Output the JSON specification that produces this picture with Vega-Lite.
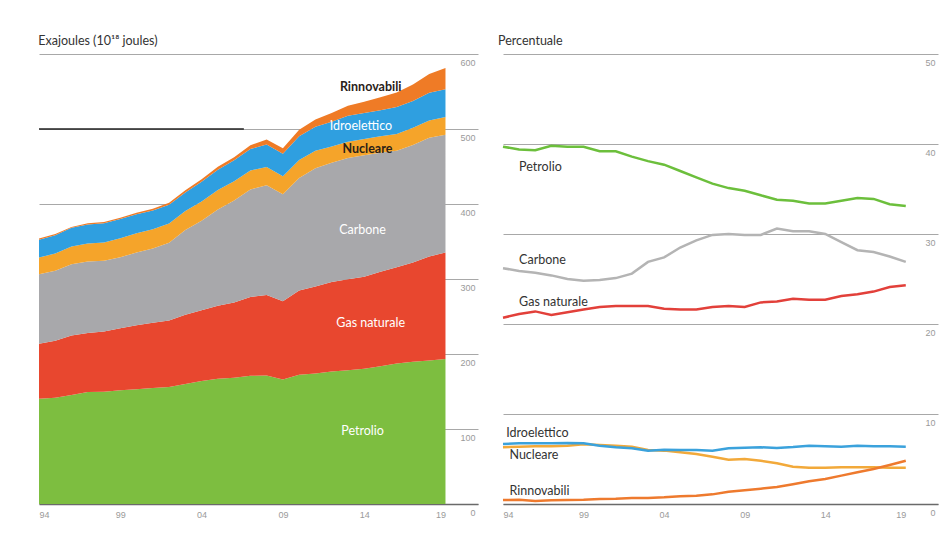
{
  "$schema": "https://vega.github.io/schema/vega-lite/v6.json",
  "background": "white",
  "padding": {"left": 38, "top": 34, "right": 5, "bottom": 5},
  "autosize": {"type": "pad"},
  "spacing": 20,
  "config": {
    "view": {"stroke": null},
    "font": "Lato",
    "axis": {"labelFont": "Liberation Sans", "labelFontSize": 9, "labelColor": "#9a9a9a", "title": null, "tickSize": 0, "ticks": false},
    "title": {"font": "Lato", "fontSize": 12.5, "fontWeight": "normal", "color": "#333333", "anchor": "start", "offset": 7}
  },
  "datasets": {
    "energy": [
      {"year":1994,"source":"Petrolio","ej":140.5,"pct":39.7},{"year":1994,"source":"Gas naturale","ej":73.3,"pct":20.7},{"year":1994,"source":"Carbone","ej":92.7,"pct":26.2},{"year":1994,"source":"Nucleare","ej":22.3,"pct":6.30},{"year":1994,"source":"Idroelettico","ej":23.6,"pct":6.67},{"year":1994,"source":"Rinnovabili","ej":1.6,"pct":0.44},
      {"year":1995,"source":"Petrolio","ej":141.8,"pct":39.4},{"year":1995,"source":"Gas naturale","ej":76.0,"pct":21.1},{"year":1995,"source":"Carbone","ej":93.2,"pct":25.9},{"year":1995,"source":"Nucleare","ej":22.9,"pct":6.37},{"year":1995,"source":"Idroelettico","ej":24.3,"pct":6.74},{"year":1995,"source":"Rinnovabili","ej":1.7,"pct":0.48},
      {"year":1996,"source":"Petrolio","ej":145.4,"pct":39.3},{"year":1996,"source":"Gas naturale","ej":79.2,"pct":21.4},{"year":1996,"source":"Carbone","ej":95.1,"pct":25.7},{"year":1996,"source":"Nucleare","ej":23.7,"pct":6.41},{"year":1996,"source":"Idroelettico","ej":24.9,"pct":6.74},{"year":1996,"source":"Rinnovabili","ej":1.2,"pct":0.33},
      {"year":1997,"source":"Petrolio","ej":149.3,"pct":39.8},{"year":1997,"source":"Gas naturale","ej":78.8,"pct":21.0},{"year":1997,"source":"Carbone","ej":95.3,"pct":25.4},{"year":1997,"source":"Nucleare","ej":24.0,"pct":6.41},{"year":1997,"source":"Idroelettico","ej":25.3,"pct":6.74},{"year":1997,"source":"Rinnovabili","ej":1.5,"pct":0.41},
      {"year":1998,"source":"Petrolio","ej":149.7,"pct":39.7},{"year":1998,"source":"Gas naturale","ej":80.3,"pct":21.3},{"year":1998,"source":"Carbone","ej":94.3,"pct":25.0},{"year":1998,"source":"Nucleare","ej":24.4,"pct":6.48},{"year":1998,"source":"Idroelettico","ej":25.6,"pct":6.78},{"year":1998,"source":"Rinnovabili","ej":1.7,"pct":0.45},
      {"year":1999,"source":"Petrolio","ej":151.7,"pct":39.7},{"year":1999,"source":"Gas naturale","ej":82.5,"pct":21.6},{"year":1999,"source":"Carbone","ej":94.7,"pct":24.8},{"year":1999,"source":"Nucleare","ej":25.3,"pct":6.63},{"year":1999,"source":"Idroelettico","ej":25.7,"pct":6.74},{"year":1999,"source":"Rinnovabili","ej":1.8,"pct":0.48},
      {"year":2000,"source":"Petrolio","ej":152.9,"pct":39.2},{"year":2000,"source":"Gas naturale","ej":85.4,"pct":21.9},{"year":2000,"source":"Carbone","ej":97.1,"pct":24.9},{"year":2000,"source":"Nucleare","ej":25.5,"pct":6.55},{"year":2000,"source":"Idroelettico","ej":25.3,"pct":6.48},{"year":2000,"source":"Rinnovabili","ej":2.1,"pct":0.55},
      {"year":2001,"source":"Petrolio","ej":154.8,"pct":39.2},{"year":2001,"source":"Gas naturale","ej":86.9,"pct":22.0},{"year":2001,"source":"Carbone","ej":99.1,"pct":25.1},{"year":2001,"source":"Nucleare","ej":25.6,"pct":6.48},{"year":2001,"source":"Idroelettico","ej":24.9,"pct":6.30},{"year":2001,"source":"Rinnovabili","ej":2.3,"pct":0.57},
      {"year":2002,"source":"Petrolio","ej":155.9,"pct":38.6},{"year":2002,"source":"Gas naturale","ej":88.9,"pct":22.0},{"year":2002,"source":"Carbone","ej":103.4,"pct":25.6},{"year":2002,"source":"Nucleare","ej":25.7,"pct":6.37},{"year":2002,"source":"Idroelettico","ej":25.0,"pct":6.19},{"year":2002,"source":"Rinnovabili","ej":2.7,"pct":0.67},
      {"year":2003,"source":"Petrolio","ej":160.0,"pct":38.1},{"year":2003,"source":"Gas naturale","ej":92.4,"pct":22.0},{"year":2003,"source":"Carbone","ej":113.0,"pct":26.9},{"year":2003,"source":"Nucleare","ej":25.2,"pct":6.00},{"year":2003,"source":"Idroelettico","ej":24.9,"pct":5.93},{"year":2003,"source":"Rinnovabili","ej":2.9,"pct":0.68},
      {"year":2004,"source":"Petrolio","ej":164.0,"pct":37.7},{"year":2004,"source":"Gas naturale","ej":94.4,"pct":21.7},{"year":2004,"source":"Carbone","ej":119.2,"pct":27.4},{"year":2004,"source":"Nucleare","ej":25.8,"pct":5.93},{"year":2004,"source":"Idroelettico","ej":26.3,"pct":6.04},{"year":2004,"source":"Rinnovabili","ej":3.2,"pct":0.74},
      {"year":2005,"source":"Petrolio","ej":166.9,"pct":37.0},{"year":2005,"source":"Gas naturale","ej":97.4,"pct":21.6},{"year":2005,"source":"Carbone","ej":128.5,"pct":28.5},{"year":2005,"source":"Nucleare","ej":25.9,"pct":5.74},{"year":2005,"source":"Idroelettico","ej":27.1,"pct":6.00},{"year":2005,"source":"Rinnovabili","ej":3.8,"pct":0.85},
      {"year":2006,"source":"Petrolio","ej":168.4,"pct":36.3},{"year":2006,"source":"Gas naturale","ej":100.2,"pct":21.6},{"year":2006,"source":"Carbone","ej":136.0,"pct":29.3},{"year":2006,"source":"Nucleare","ej":25.8,"pct":5.56},{"year":2006,"source":"Idroelettico","ej":27.8,"pct":6.00},{"year":2006,"source":"Rinnovabili","ej":4.3,"pct":0.93},
      {"year":2007,"source":"Petrolio","ej":170.9,"pct":35.6},{"year":2007,"source":"Gas naturale","ej":105.1,"pct":21.9},{"year":2007,"source":"Carbone","ej":143.5,"pct":29.9},{"year":2007,"source":"Nucleare","ej":25.2,"pct":5.26},{"year":2007,"source":"Idroelettico","ej":28.5,"pct":5.93},{"year":2007,"source":"Rinnovabili","ej":5.1,"pct":1.07},
      {"year":2008,"source":"Petrolio","ej":171.3,"pct":35.1},{"year":2008,"source":"Gas naturale","ej":107.4,"pct":22.0},{"year":2008,"source":"Carbone","ej":146.4,"pct":30.0},{"year":2008,"source":"Nucleare","ej":24.1,"pct":4.93},{"year":2008,"source":"Idroelettico","ej":30.2,"pct":6.19},{"year":2008,"source":"Rinnovabili","ej":6.7,"pct":1.37},
      {"year":2009,"source":"Petrolio","ej":166.0,"pct":34.8},{"year":2009,"source":"Gas naturale","ej":104.5,"pct":21.9},{"year":2009,"source":"Carbone","ej":142.6,"pct":29.9},{"year":2009,"source":"Nucleare","ej":23.9,"pct":5.00},{"year":2009,"source":"Idroelettico","ej":29.9,"pct":6.26},{"year":2009,"source":"Rinnovabili","ej":7.3,"pct":1.52},
      {"year":2010,"source":"Petrolio","ej":172.2,"pct":34.3},{"year":2010,"source":"Gas naturale","ej":112.4,"pct":22.4},{"year":2010,"source":"Carbone","ej":150.1,"pct":29.9},{"year":2010,"source":"Nucleare","ej":24.1,"pct":4.81},{"year":2010,"source":"Idroelettico","ej":31.6,"pct":6.30},{"year":2010,"source":"Rinnovabili","ej":8.5,"pct":1.70},
      {"year":2011,"source":"Petrolio","ej":174.1,"pct":33.8},{"year":2011,"source":"Gas naturale","ej":115.9,"pct":22.5},{"year":2011,"source":"Carbone","ej":157.6,"pct":30.6},{"year":2011,"source":"Nucleare","ej":23.3,"pct":4.52},{"year":2011,"source":"Idroelettico","ej":32.0,"pct":6.22},{"year":2011,"source":"Rinnovabili","ej":9.7,"pct":1.89},
      {"year":2012,"source":"Petrolio","ej":176.6,"pct":33.7},{"year":2012,"source":"Gas naturale","ej":119.5,"pct":22.8},{"year":2012,"source":"Carbone","ej":158.8,"pct":30.3},{"year":2012,"source":"Nucleare","ej":21.7,"pct":4.15},{"year":2012,"source":"Idroelettico","ej":33.2,"pct":6.33},{"year":2012,"source":"Rinnovabili","ej":11.5,"pct":2.19},
      {"year":2013,"source":"Petrolio","ej":178.4,"pct":33.4},{"year":2013,"source":"Gas naturale","ej":121.2,"pct":22.7},{"year":2013,"source":"Carbone","ej":161.8,"pct":30.3},{"year":2013,"source":"Nucleare","ej":21.6,"pct":4.04},{"year":2013,"source":"Idroelettico","ej":34.6,"pct":6.48},{"year":2013,"source":"Rinnovabili","ej":13.5,"pct":2.52},
      {"year":2014,"source":"Petrolio","ej":180.4,"pct":33.4},{"year":2014,"source":"Gas naturale","ej":122.6,"pct":22.7},{"year":2014,"source":"Carbone","ej":162.0,"pct":30.0},{"year":2014,"source":"Nucleare","ej":21.8,"pct":4.04},{"year":2014,"source":"Idroelettico","ej":34.6,"pct":6.41},{"year":2014,"source":"Rinnovabili","ej":15.0,"pct":2.78},
      {"year":2015,"source":"Petrolio","ej":183.7,"pct":33.7},{"year":2015,"source":"Gas naturale","ej":125.9,"pct":23.1},{"year":2015,"source":"Carbone","ej":158.6,"pct":29.1},{"year":2015,"source":"Nucleare","ej":22.2,"pct":4.07},{"year":2015,"source":"Idroelettico","ej":34.7,"pct":6.37},{"year":2015,"source":"Rinnovabili","ej":17.2,"pct":3.15},
      {"year":2016,"source":"Petrolio","ej":187.3,"pct":34.0},{"year":2016,"source":"Gas naturale","ej":128.4,"pct":23.3},{"year":2016,"source":"Carbone","ej":155.4,"pct":28.2},{"year":2016,"source":"Nucleare","ej":22.4,"pct":4.07},{"year":2016,"source":"Idroelettico","ej":35.7,"pct":6.48},{"year":2016,"source":"Rinnovabili","ej":19.4,"pct":3.52},
      {"year":2017,"source":"Petrolio","ej":189.8,"pct":33.9},{"year":2017,"source":"Gas naturale","ej":132.2,"pct":23.6},{"year":2017,"source":"Carbone","ej":156.8,"pct":28.0},{"year":2017,"source":"Nucleare","ej":22.8,"pct":4.07},{"year":2017,"source":"Idroelettico","ej":35.9,"pct":6.41},{"year":2017,"source":"Rinnovabili","ej":21.8,"pct":3.89},
      {"year":2018,"source":"Petrolio","ej":191.5,"pct":33.3},{"year":2018,"source":"Gas naturale","ej":138.6,"pct":24.1},{"year":2018,"source":"Carbone","ej":158.1,"pct":27.5},{"year":2018,"source":"Nucleare","ej":23.2,"pct":4.04},{"year":2018,"source":"Idroelettico","ej":36.9,"pct":6.41},{"year":2018,"source":"Rinnovabili","ej":24.9,"pct":4.33},
      {"year":2019,"source":"Petrolio","ej":193.3,"pct":33.1},{"year":2019,"source":"Gas naturale","ej":141.9,"pct":24.3},{"year":2019,"source":"Carbone","ej":157.1,"pct":26.9},{"year":2019,"source":"Nucleare","ej":23.6,"pct":4.04},{"year":2019,"source":"Idroelettico","ej":37.2,"pct":6.37},{"year":2019,"source":"Rinnovabili","ej":28.1,"pct":4.81}
    ]
  },
  "hconcat": [
    {
      "width": 439,
      "height": 450,
      "title": {"text": "Exajoules (10¹⁸ joules)"},
      "layer": [
        {
          "data": {"name": "energy"},
          "transform": [
            {"calculate": "indexof(['Petrolio', 'Gas naturale', 'Carbone', 'Nucleare', 'Idroelettico', 'Rinnovabili'], datum.source)", "as": "stackOrder"}
          ],
          "mark": {"type": "area"},
          "encoding": {
            "x": {"field": "year", "type": "quantitative",
                  "scale": {"domain": [1994, 2021], "nice": false, "zero": false},
                  "axis": {"values": [1994, 1999, 2004, 2009, 2014, 2019], "format": "d", "labelExpr": "slice(datum.label, 2)", "grid": false, "domain": true, "domainColor": "#6a6a6a", "domainWidth": 1.5, "labelPadding": 6, "labelFlush": false,
                           "labelAlign": {"condition": [{"test": "datum.value == 1994", "value": "left"}, {"test": "datum.value == 2019", "value": "right"}], "value": "center"}}},
            "y": {"field": "ej", "type": "quantitative", "stack": "zero",
                  "scale": {"domain": [0, 600], "nice": false},
                  "axis": {"orient": "right", "values": [0, 100, 200, 300, 400, 500, 600], "grid": true, "gridColor": "#a8a8a8", "gridWidth": 1, "domain": false, "labelAlign": "right", "labelBaseline": "top", "labelPadding": -3, "labelOffset": 4, "minExtent": 0}},
            "order": {"field": "stackOrder", "type": "quantitative", "sort": "ascending"},
            "color": {"field": "source", "type": "nominal",
                      "scale": {"domain": ["Petrolio", "Gas naturale", "Carbone", "Nucleare", "Idroelettico", "Rinnovabili"],
                                "range": ["#7dbe40", "#e8472f", "#a8a8ab", "#f5a42a", "#2f9fe0", "#ef7b26"]},
                      "legend": null}
          }
        },
        {
          "data": {"values": [{"from": 1994, "to": 2006.6, "level": 500}]},
          "mark": {"type": "rule", "color": "#222222", "strokeWidth": 1.5},
          "encoding": {
            "x": {"field": "from", "type": "quantitative"},
            "x2": {"field": "to"},
            "y": {"field": "level", "type": "quantitative"}
          }
        },
        {
          "data": {"values": [
            {"label": "Idroelettico", "year": 2013.8, "value": 504},
            {"label": "Carbone", "year": 2013.9, "value": 365},
            {"label": "Gas naturale", "year": 2014.4, "value": 241},
            {"label": "Petrolio", "year": 2013.9, "value": 97}
          ]},
          "mark": {"type": "text", "color": "white", "fontSize": 12.5, "font": "Lato", "align": "center", "baseline": "middle"},
          "encoding": {
            "x": {"field": "year", "type": "quantitative"},
            "y": {"field": "value", "type": "quantitative"},
            "text": {"field": "label"}
          }
        },
        {
          "data": {"values": [
            {"label": "Rinnovabili", "year": 2014.4, "value": 556},
            {"label": "Nucleare", "year": 2014.2, "value": 473}
          ]},
          "mark": {"type": "text", "color": "#2a2118", "fontSize": 12.5, "font": "Lato", "fontWeight": "bold", "align": "center", "baseline": "middle"},
          "encoding": {
            "x": {"field": "year", "type": "quantitative"},
            "y": {"field": "value", "type": "quantitative"},
            "text": {"field": "label"}
          }
        }
      ]
    },
    {
      "width": 435,
      "height": 450,
      "title": {"text": "Percentuale"},
      "layer": [
        {
          "data": {"name": "energy"},
          "mark": {"type": "line", "strokeWidth": 2.5},
          "encoding": {
            "x": {"field": "year", "type": "quantitative",
                  "scale": {"domain": [1994, 2021], "nice": false, "zero": false},
                  "axis": {"values": [1994, 1999, 2004, 2009, 2014, 2019], "format": "d", "labelExpr": "slice(datum.label, 2)", "grid": false, "domain": true, "domainColor": "#6a6a6a", "domainWidth": 1.5, "labelPadding": 6, "labelFlush": false,
                           "labelAlign": {"condition": [{"test": "datum.value == 1994", "value": "left"}, {"test": "datum.value == 2019", "value": "right"}], "value": "center"}}},
            "y": {"field": "pct", "type": "quantitative",
                  "scale": {"domain": [0, 50], "nice": false},
                  "axis": {"orient": "right", "values": [0, 10, 20, 30, 40, 50], "grid": true, "gridColor": "#a8a8a8", "gridWidth": 1, "domain": false, "labelAlign": "right", "labelBaseline": "top", "labelPadding": -3, "labelOffset": 4, "minExtent": 0}},
            "color": {"field": "source", "type": "nominal",
                      "scale": {"domain": ["Petrolio", "Gas naturale", "Carbone", "Nucleare", "Idroelettico", "Rinnovabili"],
                                "range": ["#6cbf3c", "#e2403a", "#b4b4b4", "#f2a93a", "#3ba2dc", "#ee7a2e"]},
                      "legend": null}
          }
        },
        {
          "data": {"values": [
            {"label": "Petrolio", "year": 1995.0, "value": 37.4},
            {"label": "Carbone", "year": 1995.0, "value": 27.1},
            {"label": "Gas naturale", "year": 1995.0, "value": 22.5},
            {"label": "Idroelettico", "year": 1994.2, "value": 7.9},
            {"label": "Nucleare", "year": 1994.4, "value": 5.4},
            {"label": "Rinnovabili", "year": 1994.4, "value": 1.45}
          ]},
          "mark": {"type": "text", "color": "#333333", "fontSize": 12.5, "font": "Lato", "align": "left", "baseline": "middle"},
          "encoding": {
            "x": {"field": "year", "type": "quantitative"},
            "y": {"field": "value", "type": "quantitative"},
            "text": {"field": "label"}
          }
        }
      ],
      "resolve": {"scale": {"color": "independent"}}
    }
  ],
  "resolve": {"scale": {"color": "independent"}}
}
